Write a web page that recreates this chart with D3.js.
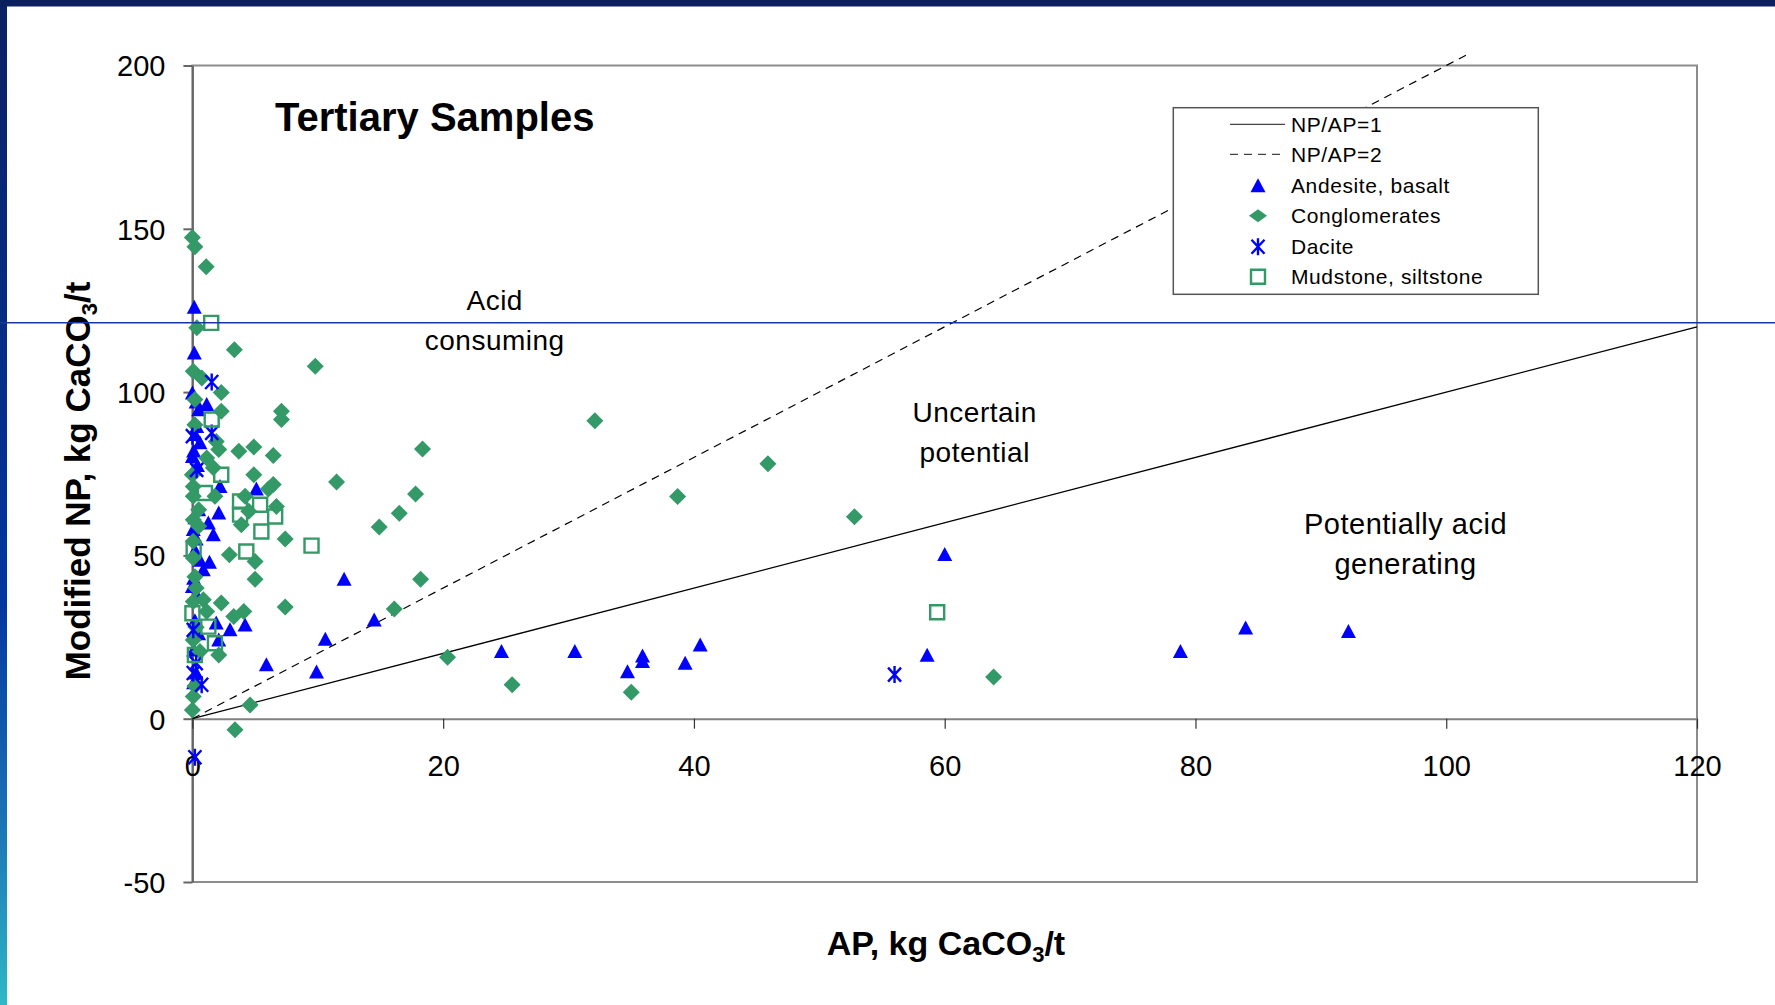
<!DOCTYPE html>
<html>
<head>
<meta charset="utf-8">
<script src="https://cdn.jsdelivr.net/npm/d3@7"></script>
<style>
  body { margin: 0; background: #fff; }
  svg { display: block; font-family: Arial, 'Liberation Sans', sans-serif; }
</style>
</head>
<body>
<div id="chart"></div>
<script>
// values: [AP, modified NP]
const andesite = [
  [0.15, 126], [0.15, 112], [0, 99.7], [0.3, 97], [1.14, 96.2], [0.5, 94.6], [0.34, 89.5],
  [0.2, 87], [0.6, 84.5], [0.1, 82], [0, 80.3], [0.4, 77.5], [2.2, 71.1], [5.1, 70.3],
  [2.1, 63], [0.5, 64], [0.2, 61.5], [1.27, 59.9], [0.07, 57.9], [1.67, 56.3], [0.3, 55],
  [0.2, 51.5], [1.36, 47.9], [0.6, 48.5], [0.87, 45.6], [0.1, 43], [0, 40.5], [0.3, 38],
  [4.2, 28.7], [3.0, 27.2], [1.9, 29.3], [0.2, 30], [2.1, 24.1], [0.5, 26], [0.1, 21],
  [0.3, 14], [0.1, 11], [5.9, 16.5], [9.9, 14.3], [10.6, 24.3], [12.1, 42.7], [14.5, 30.2],
  [24.65, 20.6], [30.5, 20.6], [34.7, 14.4], [35.9, 19.2], [35.9, 17.5], [39.3, 17],
  [40.5, 22.6], [58.6, 19.4], [60, 50.3], [78.8, 20.6], [84, 27.8], [92.2, 26.7]
];

const conglomerates = [
  [0, 147.3], [0.2, 144.5], [1.1, 138.4], [0.35, 119.7], [3.35, 113], [9.8, 107.9],
  [0.07, 106.4], [0.75, 104.3], [2.3, 99.9], [0.2, 97.7], [2.3, 94.1], [7.1, 94.1],
  [7.1, 91.6], [0.2, 90], [1.9, 84.9], [2.1, 82.4], [3.7, 81.9], [4.9, 83.2], [6.45, 80.6],
  [1.14, 79.8], [1.67, 76.8], [4.9, 74.7], [0, 74.7], [0.07, 71.1], [6.06, 70.3],
  [6.45, 71.7], [1.8, 68.1], [0.07, 68.1], [4.2, 68.1], [6.7, 65], [0.5, 64], [4.5, 63.5],
  [3.9, 59.4], [0.07, 60.9], [0.5, 58.9], [7.4, 55], [0.07, 54.3], [2.95, 50.2], [5.0, 48.1],
  [0.07, 49.2], [5.0, 42.7], [0.2, 43.5], [0.3, 40], [0.07, 35.9], [0.87, 36.4], [2.3, 35.4],
  [7.4, 34.2], [4.1, 32.8], [3.3, 31.3], [1.14, 32.8], [0.3, 28], [0.07, 24.1], [2.1, 19.5],
  [0.6, 20.6], [0.2, 10], [0.07, 6.8], [4.6, 4.2], [0, 2.7], [3.4, -3.4],
  [11.5, 72.5], [14.9, 58.7], [16.1, 33.6], [16.5, 62.9], [17.8, 68.8], [18.2, 42.7],
  [18.35, 82.6], [20.35, 18.8], [25.5, 10.4], [32.1, 91.2], [35, 8.1], [38.7, 68],
  [45.9, 78.1], [52.8, 61.8], [63.9, 12.8]
];

const dacite = [
  [1.54, 103.1], [1.54, 87.5], [0, 86.5], [0.34, 76.2], [0.07, 27.2], [0.3, 17],
  [0.07, 14], [0.74, 10.4], [0.2, -11.8], [56, 13.5]
];

const mudstone = [
  [1.5, 121.2], [1.54, 91.6], [2.3, 74.7], [1.0, 69.1], [3.8, 66.5], [5.4, 65.5], [3.8, 62.5],
  [6.6, 61.9], [5.5, 57.3], [9.5, 53], [4.3, 51.2], [0.1, 52], [0, 32.3], [1.27, 28.2],
  [1.8, 23.1], [0.2, 19.5], [59.4, 32.6]
];

const ratio1 = [[0, 0], [120, 120]];
const ratio2 = [[0, 0], [101.8, 203.6]];

const xTicks = [0, 20, 40, 60, 80, 100, 120];
const yTicks = [-50, 0, 50, 100, 150, 200];

const legendNames = ['NP/AP=1', 'NP/AP=2', 'Andesite, basalt', 'Conglomerates', 'Dacite', 'Mudstone, siltstone'];
const regionLabels = [['Acid', 'consuming'], ['Uncertain', 'potential'], ['Potentially acid', 'generating']];

const width = 1775;
const height = 1005;
const green = '#339966';
const blue = '#0000ff';

let svg = d3.select('#chart').append('svg')
  .attr('width', width)
  .attr('height', height)

// slide frame bits
let defs = svg.append('defs');
let grad = defs.append('linearGradient')
  .attr('id', 'band')
  .attr('x1', 0).attr('y1', 0).attr('x2', 0).attr('y2', 1)
grad.append('stop').attr('offset', 0).attr('stop-color', '#0b2163')
grad.append('stop').attr('offset', 0.35).attr('stop-color', '#062c86')
grad.append('stop').attr('offset', 0.6).attr('stop-color', '#0336a0')
grad.append('stop').attr('offset', 0.82).attr('stop-color', '#1a74b6')
grad.append('stop').attr('offset', 1).attr('stop-color', '#2fb8c6')

svg.append('rect').attr('x', 0).attr('y', 0).attr('width', 7).attr('height', height).attr('fill', 'url(#band)')
svg.append('rect').attr('x', 0).attr('y', 0).attr('width', width).attr('height', 6.5).attr('fill', '#0b1f5e')

const plot = {left: 192.4, right: 1697, top: 65.5, bottom: 882};

let x = d3.scaleLinear().domain([0, 120]).range([plot.left, plot.right]);
let y = d3.scaleLinear().domain([-50, 200]).range([plot.bottom, plot.top]);

// plot area border
svg.append('rect')
  .attr('x', plot.left)
  .attr('y', plot.top)
  .attr('width', plot.right - plot.left)
  .attr('height', plot.bottom - plot.top)
  .attr('fill', 'none')
  .attr('stroke', '#8c8c8c')
  .attr('stroke-width', 2)

let plainNumber = d => String(d);  // keep the hyphen-minus of the original

let yAxis = svg.append('g')
  .attr('transform', `translate(${plot.left}, 0)`)
  .call(d3.axisLeft(y).tickValues(yTicks).tickFormat(plainNumber).tickSize(9).tickSizeOuter(0).tickPadding(18))
yAxis.select('.domain').attr('stroke', '#666').attr('stroke-width', 2)
yAxis.selectAll('.tick line').attr('stroke', '#666').attr('stroke-width', 2)
yAxis.selectAll('.tick text')
  .attr('font-size', 29)
  .attr('font-family', 'Arial, Liberation Sans, sans-serif')
  .attr('fill', '#000')
  .attr('dy', '0.36em')

let xAxis = svg.append('g')
  .attr('transform', `translate(0, ${y(0)})`)
  .call(d3.axisBottom(x).tickValues(xTicks).tickFormat(plainNumber).tickSize(10).tickSizeOuter(0).tickPadding(27))
xAxis.select('.domain').attr('stroke', '#808080').attr('stroke-width', 2)
xAxis.selectAll('.tick line').attr('stroke', '#333').attr('stroke-width', 1.2)
xAxis.selectAll('.tick text')
  .attr('font-size', 29)
  .attr('font-family', 'Arial, Liberation Sans, sans-serif')
  .attr('fill', '#000')

// ratio lines
let line = d3.line().x(d => x(d[0])).y(d => y(d[1]));
svg.append('path').datum(ratio1)
  .attr('d', line).attr('fill', 'none').attr('stroke', '#000').attr('stroke-width', 1.3)
svg.append('path').datum(ratio2)
  .attr('d', line).attr('fill', 'none').attr('stroke', '#000').attr('stroke-width', 1.2)
  .attr('stroke-dasharray', '8,6')

// marker shapes
const triPath = 'M0,-7.5L7.5,6.5L-7.5,6.5Z';
const diaPath = 'M0,-8.5L8.5,0L0,8.5L-8.5,0Z';
const starPath = 'M-6.5,-7L6.5,7M6.5,-7L-6.5,7M0,-8.5L0,8.5';
const sqPath = 'M-7,-7L7,-7L7,7L-7,7Z';

let drawSeries = (data, path, styleFn) => {
  let sel = svg.append('g').selectAll('path').data(data).enter().append('path')
    .attr('d', path)
    .attr('transform', d => `translate(${x(d[0])}, ${y(d[1])})`)
  styleFn(sel);
}

drawSeries(andesite, triPath, s => s.attr('fill', blue))
drawSeries(conglomerates, diaPath, s => s.attr('fill', green))
drawSeries(dacite, starPath, s => s.attr('fill', 'none').attr('stroke', blue).attr('stroke-width', 2.4))
drawSeries(mudstone, sqPath, s => s.attr('fill', 'none').attr('stroke', green).attr('stroke-width', 2.4))

// title
svg.append('text')
  .attr('x', 275)
  .attr('y', 131)
  .attr('font-size', 40)
  .attr('font-weight', 'bold')
  .text('Tertiary Samples')

// region annotations
const regionPos = [[494.7, 310, 28], [974.7, 422, 28], [1405.5, 534, 29]];
regionLabels.forEach((lines, i) => {
  let [cx, cy, fs] = regionPos[i];
  lines.forEach((t, j) => {
    svg.append('text')
      .attr('x', cx)
      .attr('y', cy + j * 39.5)
      .attr('text-anchor', 'middle')
      .attr('font-size', fs)
      .attr('letter-spacing', 0.5)
      .text(t)
  })
})

// axis titles
let xTitle = svg.append('text')
  .attr('x', 946)
  .attr('y', 955)
  .attr('text-anchor', 'middle')
  .attr('font-size', 34)
  .attr('font-weight', 'bold')
xTitle.append('tspan').text('AP, kg CaCO')
xTitle.append('tspan').attr('font-size', 22).attr('dy', 7).text('3')
xTitle.append('tspan').attr('dy', -7).text('/t')

let yTitle = svg.append('text')
  .attr('transform', 'translate(90, 481) rotate(-90)')
  .attr('text-anchor', 'middle')
  .attr('font-size', 35)
  .attr('font-weight', 'bold')
yTitle.append('tspan').text('Modified NP, kg  CaCO')
yTitle.append('tspan').attr('font-size', 22).attr('dy', 7).text('3')
yTitle.append('tspan').attr('dy', -7).text('/t')

// legend
let legend = svg.append('g')
legend.append('rect')
  .attr('x', 1173.3)
  .attr('y', 107.7)
  .attr('width', 365)
  .attr('height', 186.6)
  .attr('fill', '#fff')
  .attr('stroke', '#555')
  .attr('stroke-width', 1.5)

const rowY = [124.3, 154.3, 185.7, 215.7, 246.7, 276.7];
legend.append('line').attr('x1', 1230).attr('x2', 1285).attr('y1', rowY[0]).attr('y2', rowY[0])
  .attr('stroke', '#444').attr('stroke-width', 1.3)
legend.append('line').attr('x1', 1230).attr('x2', 1285).attr('y1', rowY[1]).attr('y2', rowY[1])
  .attr('stroke', '#444').attr('stroke-width', 1.3).attr('stroke-dasharray', '8,6')
legend.append('path').attr('d', triPath).attr('transform', `translate(1258, ${rowY[2]})`).attr('fill', blue)
legend.append('path').attr('d', 'M0,-6.5L9,0L0,6.5L-9,0Z').attr('transform', `translate(1258, ${rowY[3]})`).attr('fill', green)
legend.append('path').attr('d', starPath).attr('transform', `translate(1258, ${rowY[4]})`)
  .attr('fill', 'none').attr('stroke', blue).attr('stroke-width', 2.4)
legend.append('path').attr('d', sqPath).attr('transform', `translate(1258, ${rowY[5]})`)
  .attr('fill', 'none').attr('stroke', green).attr('stroke-width', 2.4)

legend.selectAll('text.legend-label').data(legendNames).enter().append('text')
  .classed('legend-label', true)
  .attr('x', 1291)
  .attr('y', (d, i) => rowY[i] + 7.5)
  .attr('font-size', 21)
  .attr('letter-spacing', 0.6)
  .text(d => d)

// slide rule line across the page
svg.append('line')
  .attr('x1', 0).attr('x2', width)
  .attr('y1', 322.7).attr('y2', 322.7)
  .attr('stroke', '#17389a')
  .attr('stroke-width', 1.5)
</script>
</body>
</html>
